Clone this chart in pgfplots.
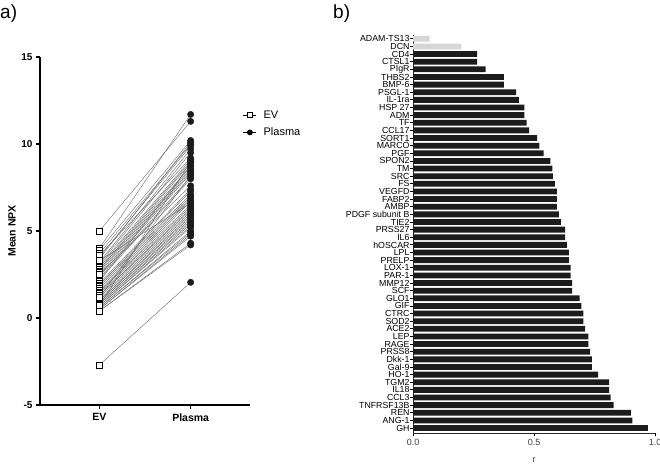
\documentclass[border=0pt]{standalone}
\usepackage{fontspec}
\setmainfont{Liberation Sans}
\usepackage{pgfplots}
\usepackage{pgfplotstable}
\pgfplotsset{compat=1.18}
\definecolor{barblack}{HTML}{1C1C1C}
\definecolor{bargray}{HTML}{D6D6D6}
\definecolor{pairline}{HTML}{6A6A6A}

\pgfplotstableread{
ev plasma
5.0 11.3
-2.7 2.05
4.0 11.7
3.9 10.2
3.7 10.0
3.5 9.9
3.4 10.1
3.2 9.7
3.1 9.5
3.0 9.1
2.9 9.0
2.8 8.9
2.8 8.7
2.7 8.6
2.6 8.5
2.5 8.4
2.4 8.3
2.3 8.1
2.2 8.0
2.1 8.8
2.0 7.4
1.9 7.3
1.9 7.1
1.8 7.0
1.7 6.9
1.6 6.8
1.5 6.7
1.5 6.5
1.4 6.4
1.3 6.3
1.3 6.2
1.2 6.1
1.1 6.0
1.0 5.9
1.0 5.8
0.9 5.7
0.9 5.6
0.8 5.5
0.8 5.4
0.7 5.3
0.7 5.2
0.6 5.0
0.6 4.9
0.5 4.8
0.5 4.7
0.4 4.3
0.4 4.2
3.6 9.2
2.5 7.6
1.2 8.2
0.7 9.0
3.3 6.6
}\npxdata

\pgfplotstableread[col sep=comma]{
name,r
GH,0.971
ANG-1,0.906
REN,0.900
TNFRSF13B,0.829
CCL3,0.817
IL18,0.810
TGM2,0.810
HO-1,0.765
Gal-9,0.739
Dkk-1,0.739
PRSS8,0.732
RAGE,0.725
LEP,0.725
ACE2,0.711
SOD2,0.704
CTRC,0.704
GIF,0.696
GLO1,0.689
SCF,0.658
MMP12,0.658
PAR-1,0.651
LOX-1,0.651
PRELP,0.644
LPL,0.644
hOSCAR,0.636
IL6,0.629
PRSS27,0.629
TIE2,0.611
PDGF subunit B,0.603
AMBP,0.594
FABP2,0.594
VEGFD,0.594
FS,0.586
SRC,0.578
TM,0.576
SPON2,0.568
PGF,0.540
MARCO,0.522
SORT1,0.5125
CCL17,0.480
TF,0.470
ADM,0.460
HSP 27,0.460
IL-1ra,0.4375
PSGL-1,0.426
BMP-6,0.375
THBS2,0.375
PIgR,0.300
CTSL1,0.265
CD4,0.265
DCN,0.200
ADAM-TS13,0.069
}\bardata

\begin{document}
\begin{tikzpicture}
\useasboundingbox (0,0) rectangle (660pt,464pt);

\node[anchor=west, font=\fontsize{19}{22}\selectfont, inner sep=0pt] at (0pt,450pt) {a)};
\node[anchor=west, font=\fontsize{19}{22}\selectfont, inner sep=0pt] at (333pt,450pt) {b)};

% ---------- panel a ----------
\begin{axis}[
  at={(40pt,59pt)}, anchor=south west, scale only axis,
  width=210pt, height=348pt,
  xmin=0.35, xmax=2.65, ymin=-5, ymax=15,
  axis x line*=bottom, axis y line*=left,
  axis line style={line width=1.6pt, black},
  xtick={1,2}, xticklabels={EV,Plasma},
  ytick={-5,0,5,10,15},
  tick align=outside, major tick length=4pt,
  tick style={line width=1.2pt, black},
  yticklabel style={font=\bfseries\fontsize{10}{11}\selectfont},
  xticklabel style={font=\bfseries\fontsize{10.5}{12}\selectfont, yshift=-1pt},
  /pgf/number format/assume math mode=true,
  every axis y label/.style={at={(axis description cs:-0.133,0.5)}, rotate=90, anchor=center},
  ylabel={\bfseries\fontsize{10.5}{12}\selectfont Mean NPX},
  legend image code/.code={\draw[mark repeat=2,mark phase=2,#1] plot coordinates {(0pt,0pt) (6.5pt,0pt) (13pt,0pt)};},
  legend style={at={(axis description cs:0.952,0.858)}, anchor=north west, draw=none, fill=none,
    font=\fontsize{11}{13}\selectfont, row sep=4pt, cells={anchor=west},
    /tikz/every odd column/.append style={column sep=5pt}},
  clip=false,
]
\addplot[forget plot, quiver={u=1, v=\thisrow{plasma}-\thisrow{ev}}, draw=pairline, line width=0.4pt, -]
  table[x expr=1, y=ev] {\npxdata};
\addplot[forget plot, only marks, mark=square*, mark size=3pt, mark options={fill=white, draw=black, line width=0.8pt}]
  table[x expr=1, y=ev] {\npxdata};
\addplot[forget plot, only marks, mark=*, mark size=3.2pt, mark options={fill=barblack, draw=barblack}]
  table[x expr=2, y=plasma] {\npxdata};
\addlegendimage{black, line width=0.5pt, mark=square*, mark size=2.6pt, mark options={fill=white, line width=0.7pt}}
\addlegendentry{EV}
\addlegendimage{black, line width=0.5pt, mark=*, mark size=2.6pt, mark options={fill=black}}
\addlegendentry{Plasma}
\end{axis}

% ---------- panel b ----------
\begin{axis}[
  at={(413pt,31pt)}, anchor=south west, scale only axis,
  width=242pt, height=398pt,
  xmin=0, xmax=1, ymin=-0.65, ymax=51.5,
  axis x line*=bottom, axis y line*=left,
  axis line style={line width=0.9pt, black!85},
  xtick={0,0.5,1},
  ytick={0,...,51},
  yticklabels from table={\bardata}{name},
  tick align=outside, major tick length=3pt,
  tick style={line width=0.8pt, black},
  xticklabel style={/pgf/number format/fixed, /pgf/number format/fixed zerofill, /pgf/number format/precision=1, font=\fontsize{9}{10}\selectfont, text=black!75},
  yticklabel style={font=\fontsize{8.8}{9}\selectfont, inner sep=0.3pt},
  /pgf/number format/assume math mode=true,
  xlabel={r},
  every axis x label/.style={at={(axis description cs:0.5,0)}, anchor=center, yshift=-27pt, font=\fontsize{9}{10}\selectfont, text=black!75},
  xbar, bar width=5.8pt,
  clip=false,
]
\addplot[xbar, bar shift=0pt, fill=barblack, draw=none, restrict y to domain=0:49.5]
  table[x=r, y expr=\coordindex] {\bardata};
\addplot[xbar, bar shift=0pt, fill=bargray, draw=none, restrict y to domain=49.5:52]
  table[x=r, y expr=\coordindex] {\bardata};
\end{axis}
\end{tikzpicture}
\end{document}
